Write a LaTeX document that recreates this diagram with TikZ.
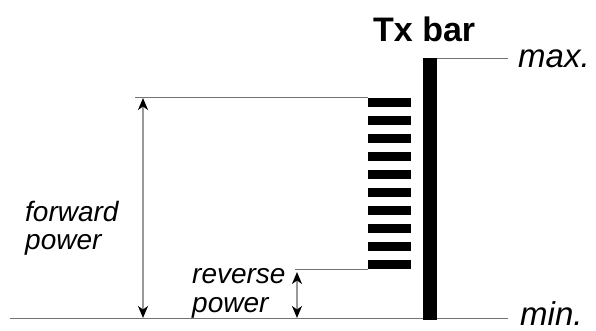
\documentclass[tikz,border=0pt]{standalone}
\usepackage{fontspec}
\setmainfont{Liberation Sans}
\usetikzlibrary{arrows.meta}
\begin{document}
\begin{tikzpicture}[x=1pt,y=-1pt,
  guide/.style={draw=black!55,line width=1pt},
  dim/.style={draw=black!40,line width=1.5pt,{Stealth[length=12pt,width=10pt,inset=3.5pt,color=black]}-{Stealth[length=12pt,width=10pt,inset=3.5pt,color=black]}},
  seg/.style={fill=black,draw=none},
  lab/.style={font=\fontsize{28}{28}\selectfont\itshape,inner sep=0pt,anchor=base west},
  ends/.style={font=\fontsize{33}{33}\selectfont\itshape,inner sep=0pt,anchor=base west}]
\useasboundingbox (0,0) rectangle (596,331);
% coordinates
\coordinate (fl) at (135,98);
\coordinate (fr) at (368,98);
\coordinate (rl) at (295,269);
\coordinate (rr) at (368,269);
\coordinate (ml) at (437,59);
\coordinate (mr) at (508,59);
\coordinate (nl) at (10,318);
\coordinate (nr) at (508,318);
\coordinate (fa1) at (143,98);
\coordinate (fa2) at (143,318);
\coordinate (ra1) at (297,272);
\coordinate (ra2) at (297,318);
% guide lines
\draw[guide] (fl) -- (fr);
\draw[guide] (rl) -- (rr);
\draw[guide] (ml) -- (mr);
\draw[guide] (nl) -- (nr);
% main bar
\fill[black] (423,58) rectangle (437,320);
% segments
\foreach \i in {0,...,9}{
  \fill[seg] (368,{98+18*\i}) rectangle (411,{107+18*\i});
}
% arrows
\draw[dim] (fa1) -- (fa2);
\draw[dim] (ra1) -- (ra2);
% texts
\node[inner sep=0pt,anchor=base west,font=\fontsize{34}{34}\selectfont\bfseries] (tx) at (373,42) {Tx bar};
\node[ends] (max) at (518,68) {max.};
\node[ends] (min) at (520,325) {min.};
\node[lab] (fw1) at (25,221) {forward};
\node[lab] (fw2) at (25,249) {power};
\node[lab] (rv1) at (192,283) {reverse};
\node[lab] (rv2) at (192,312) {power};
\end{tikzpicture}
\end{document}
